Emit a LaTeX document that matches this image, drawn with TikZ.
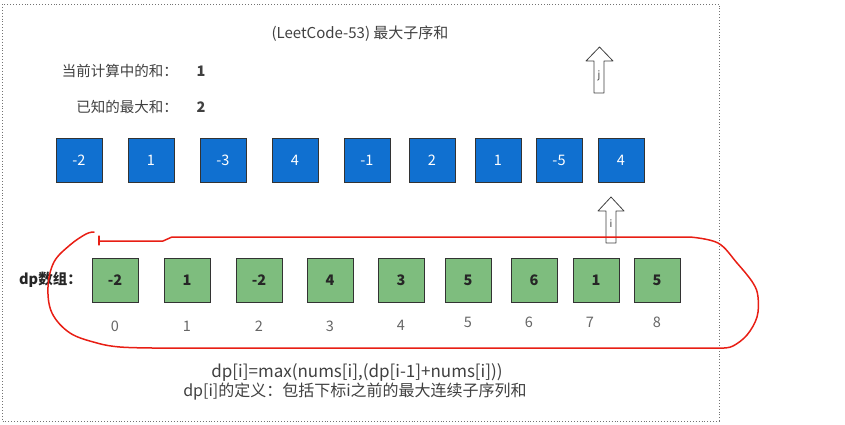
\documentclass[tikz,border=0pt]{standalone}
\usepackage{fontspec}
\setmainfont{Noto Sans CJK SC}
\begin{document}
\begin{tikzpicture}[x=1pt,y=-1pt,
  txt/.style={text=black!75, font=\fontsize{14.5}{16}\selectfont, inner sep=0pt},
  numbox/.style={draw=black!80, line width=0.9pt, minimum width=46pt, minimum height=44pt, inner sep=0pt, font=\fontsize{14.5}{16}\selectfont},
  bluebox/.style={numbox, fill=boxblue, text=white},
  greenbox/.style={numbox, fill=boxgreen, text=black!85, font=\fontsize{14.5}{16}\selectfont\bfseries},
  idx/.style={text=black!60, font=\fontsize{14.5}{16}\selectfont, inner sep=0pt},
  hollow/.style={draw=black!75, fill=white, line width=0.8pt, line join=round},
  redline/.style={draw=penred, line width=1.5pt, line cap=round, line join=round}
]
\definecolor{boxblue}{RGB}{16,112,208}
\definecolor{boxgreen}{RGB}{126,189,126}
\definecolor{penred}{RGB}{232,30,20}
\useasboundingbox (0,0) rectangle (845,424);
% frame
\draw[black!55, dotted, line width=0.9pt] (2,4) rectangle (719,421);
% title and labels
\node[txt, font=\fontsize{15}{17}\selectfont] (title) at (360,34) {(LeetCode-53) 最大子序和};
\node[txt, anchor=east] (curlab) at (178,71) {当前计算中的和：};
\node[txt, font=\fontsize{14.5}{16}\selectfont\bfseries] (curval) at (201,71) {1};
\node[txt, anchor=east] (maxlab) at (178,107) {已知的最大和：};
\node[txt, font=\fontsize{14.5}{16}\selectfont\bfseries] (maxval) at (201,107) {2};
% nums
\node[bluebox] (n0) at (79,160) {-2};
\node[bluebox] (n1) at (151,160) {1};
\node[bluebox] (n2) at (223,160) {-3};
\node[bluebox] (n3) at (295,160) {4};
\node[bluebox] (n4) at (367,160) {-1};
\node[bluebox] (n5) at (432,160) {2};
\node[bluebox] (n6) at (498,160) {1};
\node[bluebox] (n7) at (559,160) {-5};
\node[bluebox] (n8) at (621,160) {4};
% dp
\node[txt, anchor=west, font=\fontsize{14.5}{16}\selectfont\bfseries, text=black!85] (dplab) at (19,280) {dp数组：};
\node[greenbox] (d0) at (115,280) {-2};
\node[greenbox] (d1) at (187,280) {1};
\node[greenbox] (d2) at (259,280) {-2};
\node[greenbox] (d3) at (330,280) {4};
\node[greenbox] (d4) at (401,280) {3};
\node[greenbox] (d5) at (468,280) {5};
\node[greenbox] (d6) at (534,280) {6};
\node[greenbox] (d7) at (596,280) {1};
\node[greenbox] (d8) at (657,280) {5};
\node[idx] (i0) at (115,326) {0};
\node[idx] (i1) at (187,326) {1};
\node[idx] (i2) at (259,326) {2};
\node[idx] (i3) at (330,326) {3};
\node[idx] (i4) at (401,325) {4};
\node[idx] (i5) at (468,322) {5};
\node[idx] (i6) at (529,322) {6};
\node[idx] (i7) at (590,322) {7};
\node[idx] (i8) at (657,322) {8};
% formula
\node[txt, font=\fontsize{17}{19}\selectfont] (f1) at (357,372) {dp[i]=max(nums[i],(dp[i-1]+nums[i]))};
\node[txt, font=\fontsize{16}{18}\selectfont] (f2) at (355,392) {dp[i]的定义：包括下标i之前的最大连续子序列和};
% hollow arrows
\draw[hollow] (594,93) -- (594,61) -- (586,61) -- (599.5,47) -- (613,61) -- (604,61) -- (604,93) -- cycle;
\node[inner sep=0pt, font=\fontsize{10}{11}\selectfont, text=black!75] (jlab) at (599,76) {j};
\draw[hollow] (606,243) -- (606,211) -- (598,211) -- (611,197) -- (624,211) -- (616,211) -- (616,243) -- cycle;
\node[inner sep=0pt, font=\fontsize{10}{11}\selectfont, text=black!75] (ilab) at (611,224) {i};
% red loop
\draw[redline] plot[smooth, tension=0.6] coordinates {(94,232)(86,234)(70,245)(54,262)(48,287)(52,313)(70,333)(97,343)(120,347)(153,348)}
  -- (723,348)
  plot[smooth, tension=0.6] coordinates {(723,348)(733,346)(747,335)(757,317)(758,297)(753,283)(737,263)(718,243)(690,237)}
  -- (172,237) -- (163,241) -- (99,241);
\draw[redline, line width=1.2pt] (99,236) -- (99,245);
\end{tikzpicture}
\end{document}
